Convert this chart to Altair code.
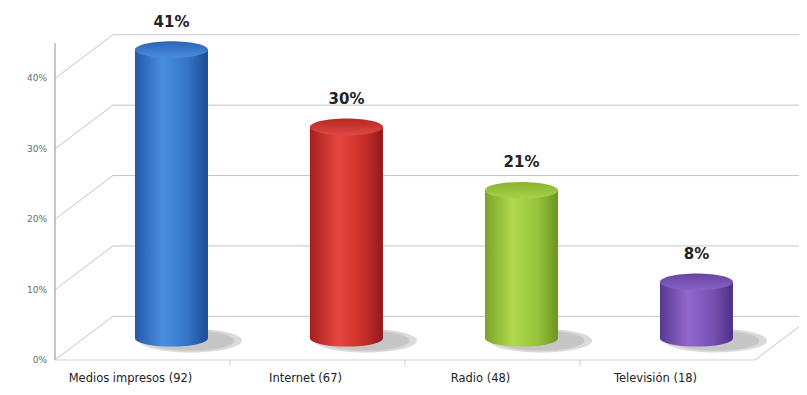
import altair as alt
import pandas as pd

# ---- data ----
categories = ["Medios impresos (92)", "Internet  (67)", "Radio (48)", "Televisión (18)"]
values = [41, 30, 21, 8]
pct_labels = ["41%", "30%", "21%", "8%"]
y_ticks = [0, 10, 20, 30, 40]
y_tick_labels = ["0%", "10%", "20%", "30%", "40%"]

# cylinder colours: (edge-left, highlight, mid, edge-right), top (far, near)
body_colors = [
    ["#2558a8", "#4a8fdf", "#3375c8", "#1d4b92"],
    ["#a51f1f", "#e6473f", "#cc302b", "#8f1a1a"],
    ["#79a528", "#b2d94c", "#96c33b", "#6b951f"],
    ["#593990", "#9169cd", "#7851b6", "#4d3184"],
]
top_colors = [
    ["#2a64b4", "#4a8ddc"],
    ["#b92624", "#dc4a42"],
    ["#86b42e", "#a8d148"],
    ["#6644a2", "#8a62c6"],
]

# ---- projection (pseudo 3D) ----
DX = 0.331   # x shift (category units) for full depth
DY = 6.2     # y shift (percent units) for full depth
X_MAX = 744 / 175
Y_MAX = 50
HALF_W = 0.2086

xs = alt.Scale(domain=[0, X_MAX], nice=False, zero=False)
ys = alt.Scale(domain=[0, Y_MAX], nice=False, zero=False)

def X(f):
    return alt.X(f, type="quantitative", scale=xs, axis=None)

def Y(f):
    return alt.Y(f, type="quantitative", scale=ys, axis=None)

# ---- wall / floor lines ----
seg_rows = []
for v in y_ticks:
    seg_rows.append({"x1": DX, "y1": v + DY, "x2": X_MAX, "y2": v + DY, "k": "wall"})
    seg_rows.append({"x1": 0, "y1": v, "x2": DX, "y2": v + DY, "k": "wall"})
seg_rows.append({"x1": 0, "y1": 0, "x2": 4, "y2": 0, "k": "floor"})
seg_rows.append({"x1": 4, "y1": 0, "x2": 4 + DX, "y2": DY, "k": "wall"})
for i in range(1, len(categories)):
    seg_rows.append({"x1": i, "y1": 0, "x2": i, "y2": -0.9, "k": "floor"})
seg = pd.DataFrame(seg_rows)

lines = alt.Chart(seg).mark_rule(strokeWidth=1).encode(
    x=X("x1"), x2="x2", y=Y("y1"), y2="y2",
    color=alt.Color("k:N", scale=alt.Scale(domain=["wall", "floor"], range=["#c4c4c4", "#d0d0d0"]), legend=None),
)

axis_df = pd.DataFrame({"x1": [0], "y1": [0], "y2": [45]})
axis_line = alt.Chart(axis_df).mark_rule(color="#a8a8a8", strokeWidth=1.3).encode(
    x=X("x1"), y=Y("y1"), y2="y2"
)

tick_df = pd.DataFrame({"v": y_ticks, "t": y_tick_labels, "x0": [0] * len(y_ticks)})
tick_text = alt.Chart(tick_df).mark_text(
    align="right", baseline="middle", dx=-8, fontSize=9, color="#6a6a6a", font="DejaVu Sans"
).encode(x=X("x0"), y=Y("v"), text="t:N")

cat_df = pd.DataFrame({
    "c": categories,
    "xc": [i + 0.5 for i in range(len(categories))],
    "y0": [0] * len(categories),
})
cat_text = alt.Chart(cat_df).mark_text(
    align="center", baseline="middle", dx=-12, dy=19, fontSize=11.5, color="#222222", font="DejaVu Sans"
).encode(x=X("xc"), y=Y("y0"), text="c:N")

# ---- cylinders ----
ELLIPSE = ("M -1 0 C -1 -0.127 -0.552 -0.23 0 -0.23 C 0.552 -0.23 1 -0.127 1 0 "
           "C 1 0.127 0.552 0.23 0 0.23 C -0.552 0.23 -1 0.127 -1 0 Z")

cyl_df = pd.DataFrame({
    "c": categories,
    "v": values,
    "t": pct_labels,
    "xc": [i + 0.5 + DX / 2 for i in range(len(categories))],
})
cyl_df["xl"] = cyl_df["xc"] - HALF_W
cyl_df["xr"] = cyl_df["xc"] + HALF_W
cyl_df["ytop"] = cyl_df["v"] + DY / 2
cyl_df["ybot"] = DY / 2
cyl_df["xs"] = cyl_df["xc"] + 0.11
cyl_df["ys"] = DY / 2 - 0.35

base = alt.Chart(cyl_df)

shadow = base.mark_point(shape=ELLIPSE, filled=True, color="#8c8c8c", opacity=0.32, size=10500, strokeWidth=0).encode(
    x=X("xs"), y=Y("ys")
)
shadow2 = base.mark_point(shape=ELLIPSE, filled=True, color="#8c8c8c", opacity=0.25, size=7600, strokeWidth=0).encode(
    x=X("xs"), y=Y("ys")
)

layers = [lines, axis_line, tick_text, cat_text, shadow, shadow2]

def hgrad(cols):
    return alt.LinearGradient(
        gradient="linear", x1=0, x2=1, y1=0, y2=0,
        stops=[
            alt.GradientStop(color=cols[0], offset=0),
            alt.GradientStop(color=cols[1], offset=0.38),
            alt.GradientStop(color=cols[2], offset=0.72),
            alt.GradientStop(color=cols[3], offset=1),
        ],
    )

def vgrad(cols):
    return alt.LinearGradient(
        gradient="linear", x1=0, x2=0, y1=0, y2=1,
        stops=[
            alt.GradientStop(color=cols[0], offset=0),
            alt.GradientStop(color=cols[1], offset=1),
        ],
    )

for i, cat in enumerate(categories):
    sub = base.transform_filter(alt.datum.c == cat)
    bottom = sub.mark_point(shape=ELLIPSE, filled=True, size=5329, strokeWidth=0, opacity=1,
                            color=hgrad(body_colors[i])).encode(x=X("xc"), y=Y("ybot"))
    body = sub.mark_bar(color=hgrad(body_colors[i])).encode(
        x=X("xl"), x2="xr", y=Y("ybot"), y2="ytop"
    )
    top = sub.mark_point(shape=ELLIPSE, filled=True, size=5329, strokeWidth=0, opacity=1,
                         color=vgrad(top_colors[i])).encode(x=X("xc"), y=Y("ytop"))
    layers += [bottom, body, top]

pct_text = base.mark_text(
    align="center", baseline="middle", dy=-28, fontSize=15, fontWeight="bold", color="#222222", font="DejaVu Sans"
).encode(x=X("xc"), y=Y("ytop"), text="t:N")
layers.append(pct_text)

chart = alt.layer(*layers).properties(
    width=744, height=352,
    autosize=alt.AutoSizeParams(type="none"),
    padding={"left": 47, "top": 0, "right": 0, "bottom": 27},
    background="white",
).configure_view(stroke=None)

chart.save("out.html", embed_options={"renderer": "svg", "actions": False})
